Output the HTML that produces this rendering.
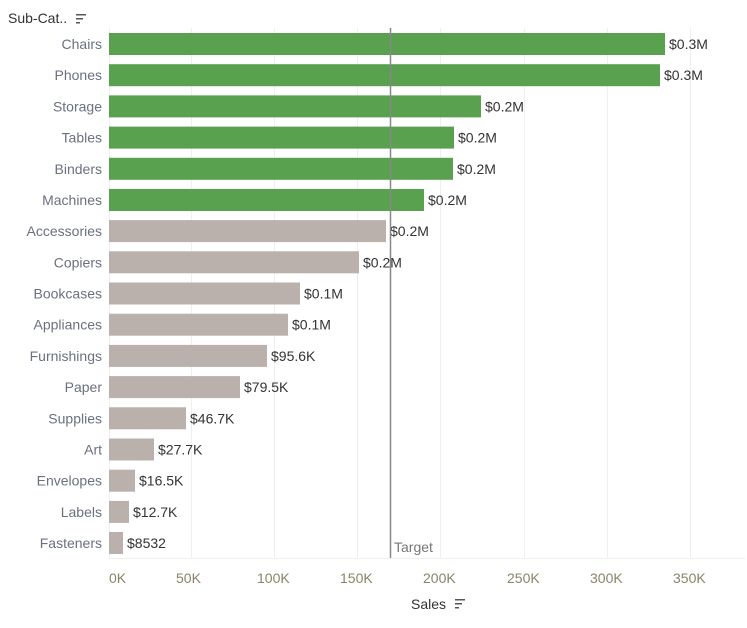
<!DOCTYPE html>
<html><head><meta charset="utf-8"><style>
body{margin:0;background:#fff;width:747px;height:623px;overflow:hidden;font-family:"Liberation Sans",sans-serif}
</style></head><body>
<svg width="747" height="623" xmlns="http://www.w3.org/2000/svg" font-family="Liberation Sans, sans-serif">
<text x="8" y="23" font-size="14" fill="#333">Sub-Cat..</text>
<g fill="#555"><rect x="76" y="14" width="10" height="1.5"/><rect x="76" y="18" width="7" height="1.5"/><rect x="76" y="22" width="4" height="1.5"/></g>
<g stroke="#efefef" stroke-width="1">
<line x1="191.5" y1="28" x2="191.5" y2="558"/><line x1="274.5" y1="28" x2="274.5" y2="558"/><line x1="357.5" y1="28" x2="357.5" y2="558"/><line x1="440.5" y1="28" x2="440.5" y2="558"/><line x1="524.5" y1="28" x2="524.5" y2="558"/><line x1="607.5" y1="28" x2="607.5" y2="558"/><line x1="690.5" y1="28" x2="690.5" y2="558"/>
<line x1="109" y1="558.5" x2="745" y2="558.5"/><line x1="109.5" y1="28" x2="109.5" y2="558"/>
</g>
<g fill="#59a14f">
<rect x="109" y="33" width="556" height="22"/>
<rect x="109" y="64.2" width="551" height="22"/>
<rect x="109" y="95.4" width="372" height="22"/>
<rect x="109" y="126.6" width="345" height="22"/>
<rect x="109" y="157.8" width="344" height="22"/>
<rect x="109" y="189" width="315" height="22"/>
</g>
<g fill="#bab0ac">
<rect x="109" y="220.1" width="277" height="22"/>
<rect x="109" y="251.3" width="250" height="22"/>
<rect x="109" y="282.5" width="191" height="22"/>
<rect x="109" y="313.7" width="179" height="22"/>
<rect x="109" y="344.9" width="158" height="22"/>
<rect x="109" y="376.1" width="131" height="22"/>
<rect x="109" y="407.3" width="77" height="22"/>
<rect x="109" y="438.5" width="45" height="22"/>
<rect x="109" y="469.7" width="26" height="22"/>
<rect x="109" y="500.9" width="20" height="22"/>
<rect x="109" y="532" width="14" height="22"/>
</g>
<g font-size="14" fill="#6b7080" text-anchor="end">
<text x="102" y="49">Chairs</text>
<text x="102" y="80.2">Phones</text>
<text x="102" y="111.4">Storage</text>
<text x="102" y="142.6">Tables</text>
<text x="102" y="173.8">Binders</text>
<text x="102" y="205">Machines</text>
<text x="102" y="236.1">Accessories</text>
<text x="102" y="267.3">Copiers</text>
<text x="102" y="298.5">Bookcases</text>
<text x="102" y="329.7">Appliances</text>
<text x="102" y="360.9">Furnishings</text>
<text x="102" y="392.1">Paper</text>
<text x="102" y="423.3">Supplies</text>
<text x="102" y="454.5">Art</text>
<text x="102" y="485.7">Envelopes</text>
<text x="102" y="516.9">Labels</text>
<text x="102" y="548">Fasteners</text>
</g>
<g font-size="14" fill="#333">
<text x="669" y="49">$0.3M</text>
<text x="664" y="80.2">$0.3M</text>
<text x="485" y="111.4">$0.2M</text>
<text x="458" y="142.6">$0.2M</text>
<text x="457" y="173.8">$0.2M</text>
<text x="428" y="205">$0.2M</text>
<text x="390" y="236.1">$0.2M</text>
<text x="363" y="267.3">$0.2M</text>
<text x="304" y="298.5">$0.1M</text>
<text x="292" y="329.7">$0.1M</text>
<text x="271" y="360.9">$95.6K</text>
<text x="244" y="392.1">$79.5K</text>
<text x="190" y="423.3">$46.7K</text>
<text x="158" y="454.5">$27.7K</text>
<text x="139" y="485.7">$16.5K</text>
<text x="133" y="516.9">$12.7K</text>
<text x="127" y="548">$8532</text>
</g>
<line x1="390.5" y1="28" x2="390.5" y2="558" stroke="#888" stroke-width="1.5"/>
<text x="394" y="552" font-size="14" fill="#777">Target</text>
<g font-size="14" fill="#8a8468">
<text x="109" y="583">0K</text><text x="176" y="583">50K</text><text x="257" y="583">100K</text><text x="340" y="583">150K</text><text x="423" y="583">200K</text><text x="507" y="583">250K</text><text x="590" y="583">300K</text><text x="673" y="583">350K</text>
</g>
<text x="411" y="609" font-size="14" fill="#333">Sales</text>
<g fill="#555"><rect x="455" y="599" width="10" height="1.5"/><rect x="455" y="603" width="7" height="1.5"/><rect x="455" y="607" width="4" height="1.5"/></g>
</svg>
</body></html>
